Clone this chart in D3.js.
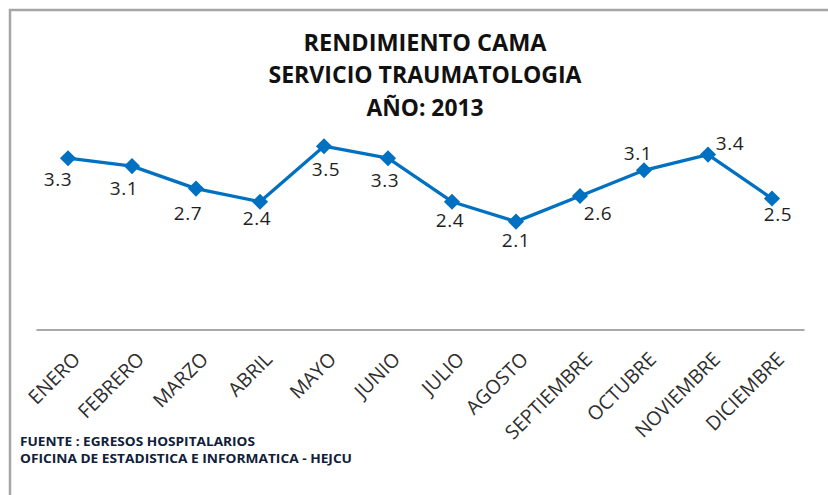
<!DOCTYPE html>
<html>
<head>
<meta charset="utf-8">
<script src="https://cdn.jsdelivr.net/npm/d3@7"></script>
<style>
  html, body { margin: 0; padding: 0; background: #fff; }
  svg { display: block; }
</style>
</head>
<body>
<svg id="chart" width="828" height="495"></svg>
<script>
// ---- data ----
const titleLines = ["RENDIMIENTO CAMA", "SERVICIO TRAUMATOLOGIA", "AÑO: 2013"];
const months = ["ENERO","FEBRERO","MARZO","ABRIL","MAYO","JUNIO","JULIO","AGOSTO","SEPTIEMBRE","OCTUBRE","NOVIEMBRE","DICIEMBRE"];
const values = [3.27, 3.12, 2.69, 2.44, 3.50, 3.27, 2.44, 2.06, 2.55, 3.04, 3.34, 2.50];
const valueLabels = ["3.3","3.1","2.7","2.4","3.5","3.3","2.4","2.1","2.6","3.1","3.4","2.5"];
const sourceLines = ["FUENTE : EGRESOS HOSPITALARIOS", "OFICINA DE ESTADISTICA E INFORMATICA - HEJCU"];

// ---- layout ----
const W = 828, H = 495;
const plot = { left: 36, right: 804, top: 120, bottom: 329.5 };
// data-label placement (dx, dy of label centre relative to its point)
const labelOffsets = [[-10,21],[-8,22],[-8,25],[-3,17],[2,23],[-3,22],[-2,19],[0,19],[18,17],[-6,-17],[22,-11],[6,16]];
const titleWidths = [243, 313, 117];
const sourceWidths = [235, 332];

const svg = d3.select("#chart");

// frame
svg.append("path")
  .attr("d", `M10,${H} V10 H${W}`)
  .attr("fill", "none")
  .attr("stroke", "#a6a6a6")
  .attr("stroke-width", 2.5);

// title
const titleY = [50.5, 83, 116];
svg.append("g").selectAll("text").data(titleLines).join("text")
  .attr("x", 425)
  .attr("y", (d, i) => titleY[i])
  .attr("text-anchor", "middle")
  .attr("font-family", "'Open Sans', sans-serif")
  .attr("font-weight", "bold")
  .attr("font-size", 24)
  .attr("fill", "#111")
  .attr("textLength", (d, i) => titleWidths[i])
  .attr("lengthAdjust", "spacingAndGlyphs")
  .text(d => d);

// scales
const x = d3.scalePoint().domain(months).range([plot.left, plot.right]).padding(0.5);
const y = d3.scaleLinear().domain([0, 4]).range([plot.bottom, plot.top]);

// x axis
const xAxis = svg.append("g")
  .attr("transform", `translate(0,${plot.bottom})`)
  .call(d3.axisBottom(x).tickSize(0).tickSizeOuter(0));
xAxis.select(".domain").attr("stroke", "#8c8c8c").attr("stroke-width", 1.5);
xAxis.selectAll(".tick text")
  .attr("x", 0).attr("y", 0).attr("dy", "0.36em")
  .attr("transform", "translate(8,26) rotate(-45)")
  .attr("text-anchor", "end")
  .attr("font-family", "'Open Sans', sans-serif")
  .attr("font-size", 19.5)
  .attr("fill", "#2e2e2e")
  .text(d => d);

// line
const data = months.map((m, i) => ({ m, v: values[i], label: valueLabels[i], off: labelOffsets[i] }));
svg.append("path")
  .datum(data)
  .attr("fill", "none")
  .attr("stroke", "#0070C0")
  .attr("stroke-width", 3.3)
  .attr("stroke-linejoin", "round")
  .attr("d", d3.line().x(d => x(d.m)).y(d => y(d.v)));

// markers
svg.append("g").selectAll("path").data(data).join("path")
  .attr("d", d3.symbol().type(d3.symbolSquare).size(130))
  .attr("transform", d => `translate(${x(d.m)},${y(d.v)}) rotate(45)`)
  .attr("fill", "#0070C0");

// value labels
const fsLab = 19;
svg.append("g").selectAll("text").data(data).join("text")
  .attr("x", d => x(d.m) + d.off[0])
  .attr("y", d => y(d.v) + d.off[1] + 0.357 * fsLab)
  .attr("text-anchor", "middle")
  .attr("font-family", "'Open Sans', sans-serif")
  .attr("font-size", fsLab)
  .attr("letter-spacing", 0.6)
  .attr("fill", "#1e1e1e")
  .text(d => d.label);

// source
const srcY = [446, 463];
svg.append("g").selectAll("text").data(sourceLines).join("text")
  .attr("x", 20)
  .attr("y", (d, i) => srcY[i])
  .attr("font-family", "'Open Sans', sans-serif")
  .attr("font-weight", "bold")
  .attr("font-size", 11.5)
  .attr("fill", "#10203a")
  .attr("textLength", (d, i) => sourceWidths[i])
  .attr("lengthAdjust", "spacingAndGlyphs")
  .text(d => d);
</script>
</body>
</html>
